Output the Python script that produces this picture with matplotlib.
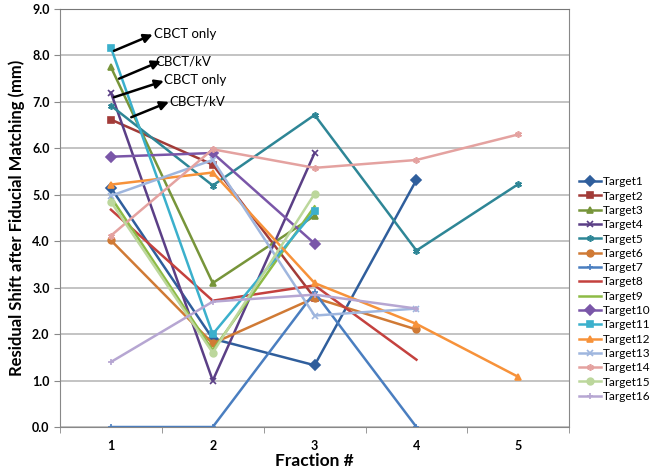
import numpy as np
import matplotlib.pyplot as plt

plt.rcParams['font.family'] = ['Lato', 'DejaVu Sans']

# fractions and residual shift per target (mm)
fractions = [1, 2, 3, 4, 5]
names = ['Target%d' % i for i in range(1, 17)]
values = [
    [5.15, 1.90, 1.33, 5.32],          # Target1
    [6.62, 5.65, 2.78],                # Target2
    [7.75, 3.10, 4.55],                # Target3
    [7.20, 1.00, 5.90],                # Target4
    [6.92, 5.20, 6.72, 3.80, 5.23],    # Target5
    [4.02, 1.80, 2.78, 2.10],          # Target6
    [0.00, 0.00, 2.90, 0.00],          # Target7
    [4.68, 2.72, 3.05, 1.45],          # Target8
    [4.95, 1.65, 4.75],                # Target9
    [5.82, 5.90, 3.95],                # Target10
    [8.17, 2.00, 4.65],                # Target11
    [5.22, 5.48, 3.10, 2.22, 1.08],    # Target12
    [4.98, 5.75, 2.40, 2.55],          # Target13
    [4.12, 5.98, 5.58, 5.75, 6.30],    # Target14
    [4.85, 1.60, 5.02],                # Target15
    [1.40, 2.70, 2.85, 2.55],          # Target16
]
colors = ['#2F5E9C', '#A23B38', '#77953A', '#5B3F86', '#2E8696', '#D07A35',
          '#4A7EC0', '#C4413E', '#8DBB45', '#7A56A8', '#3BB0CC', '#F7923A',
          '#9FB6DE', '#E4A2A0', '#BCD79C', '#B6A6D2']
markers = ['D', 's', '^', 'x', (6, 2, 0), 'o', '+', None, None, 'D', 's', '^',
           'x', (6, 2, 0), 'o', '+']

# annotation arrows (tail -> head) and labels
notes = ['CBCT only', 'CBCT/kV', 'CBCT only', 'CBCT/kV']
arrow_tail = [(1.03, 8.10), (1.08, 7.50), (1.03, 7.10), (1.20, 6.67)]
arrow_head = [(1.41, 8.45), (1.49, 7.88), (1.52, 7.45), (1.57, 7.00)]
note_pos = [(1.42, 8.47), (1.44, 7.88), (1.52, 7.47), (1.57, 7.00)]

fig = plt.figure(figsize=(6.52, 4.75), dpi=100)
ax = fig.add_axes([0.092, 0.101, 0.781, 0.880])

for name, vals, c, m in zip(names, values, colors, markers):
    ax.plot(fractions[:len(vals)], vals, color=c, lw=1.8, marker=m,
            markersize=4.8, markeredgewidth=1.2, label=name)

for tail, head in zip(arrow_tail, arrow_head):
    ax.annotate('', xy=head, xytext=tail,
                arrowprops=dict(arrowstyle='-|>', color='black', lw=1.8,
                                mutation_scale=13, shrinkA=0, shrinkB=0))
for txt, pos in zip(notes, note_pos):
    ax.text(pos[0], pos[1], txt, fontsize=9.5, ha='left', va='center')

ax.set_xlim(0.5, 5.5)
ax.set_ylim(0, 9)
ax.set_xticks(fractions)
ax.set_xticks(np.arange(0.5, 5.6, 1.0), minor=True)
ax.tick_params(axis='x', which='major', length=0, pad=9)
ax.tick_params(axis='x', which='minor', length=4, color='#888888')
ax.set_yticks(np.arange(0, 9.1, 1.0))
ax.set_yticklabels(['%.1f' % v for v in np.arange(0, 9.1, 1.0)])
ax.tick_params(axis='y', length=4, color='#888888')
for lab in ax.get_xticklabels() + ax.get_yticklabels():
    lab.set_fontweight('bold')
    lab.set_fontsize(9)

ax.grid(axis='y', color='#BEBEBE', lw=1.3)
ax.set_axisbelow(True)
for side in ['left', 'bottom', 'top', 'right']:
    ax.spines[side].set_color('#888888')
ax.spines['top'].set_color('#777777')

ax.set_xlabel('Fraction #', fontsize=12.5, fontweight='bold', labelpad=1)
ax.set_ylabel('Residual Shift after Fiducial Matching (mm)', fontsize=12,
              fontweight='bold', labelpad=5)

ax.legend(loc='center left', bbox_to_anchor=(1.005, 0.33), frameon=False,
          fontsize=8.5, handlelength=1.9, handletextpad=0.15,
          labelspacing=0.28, borderaxespad=0.2)

fig.savefig('out.png', dpi=100)
